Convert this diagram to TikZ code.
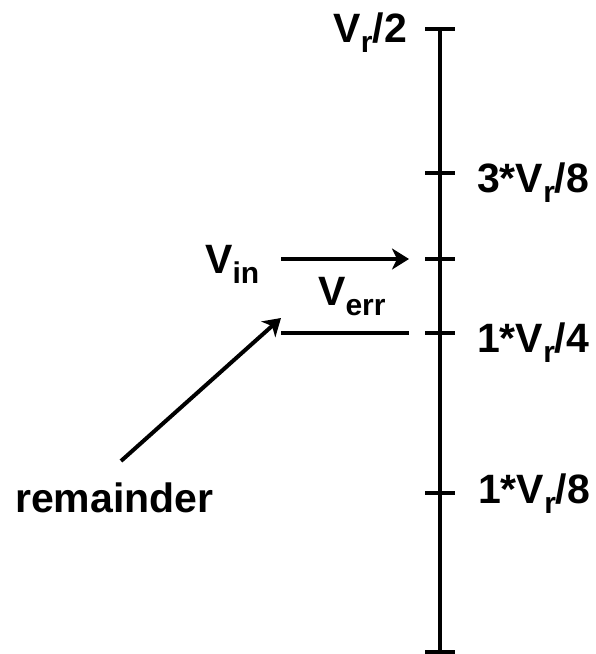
\documentclass[tikz,border=0pt]{standalone}
\usepackage{fontspec}
\setmainfont{Liberation Sans}
\usetikzlibrary{arrows.meta}
\newcommand{\subsc}[1]{\raisebox{-10pt}{\fontsize{30}{30}\selectfont #1}}
\begin{document}
\begin{tikzpicture}[x=1pt,y=-1pt,
  line/.style={line width=4pt},
  arr/.style={line width=4pt,-{Stealth[length=17pt,width=21pt,inset=5pt]}},
  lbl/.style={inner sep=0pt,font=\fontsize{41}{44}\selectfont\bfseries}]
\useasboundingbox (0,0) rectangle (596,654);
% axis coordinates
\coordinate (top) at (440,29);
\coordinate (t38) at (440,173);
\coordinate (tin) at (440,259);
\coordinate (t14) at (440,333);
\coordinate (t18) at (440,493);
\coordinate (bot) at (440,652);
\draw[line] (top) -- (bot);
\foreach \c in {top,t38,tin,t14,t18,bot}
  \draw[line] ([xshift=-15pt]\c) -- ([xshift=15pt]\c);
% labels
\node[lbl,anchor=base east] (lvr2) at (407,42) {V\subsc{r}/2};
\node[lbl,anchor=base west] (l38) at (477,192) {3*V\subsc{r}/8};
\node[lbl,anchor=base west] (l14) at (477,352) {1*V\subsc{r}/4};
\node[lbl,anchor=base west] (l18) at (478,503) {1*V\subsc{r}/8};
\node[lbl,anchor=base west] (lin) at (205,273) {V\subsc{in}};
\node[lbl,anchor=base west] (lerr) at (318,305) {V\subsc{err}};
\node[lbl,anchor=base west] (rem) at (15,512) {remainder};
% connectors
\coordinate (vinS) at (281,259);
\coordinate (vinE) at (409,259);
\coordinate (errS) at (281,333);
\coordinate (errE) at (409,333);
\coordinate (remS) at (121,461);
\coordinate (remE) at (281,318);
\draw[arr] (vinS) -- (vinE);
\draw[line] (errS) -- (errE);
\draw[arr] (remS) -- (remE);
\end{tikzpicture}
\end{document}
